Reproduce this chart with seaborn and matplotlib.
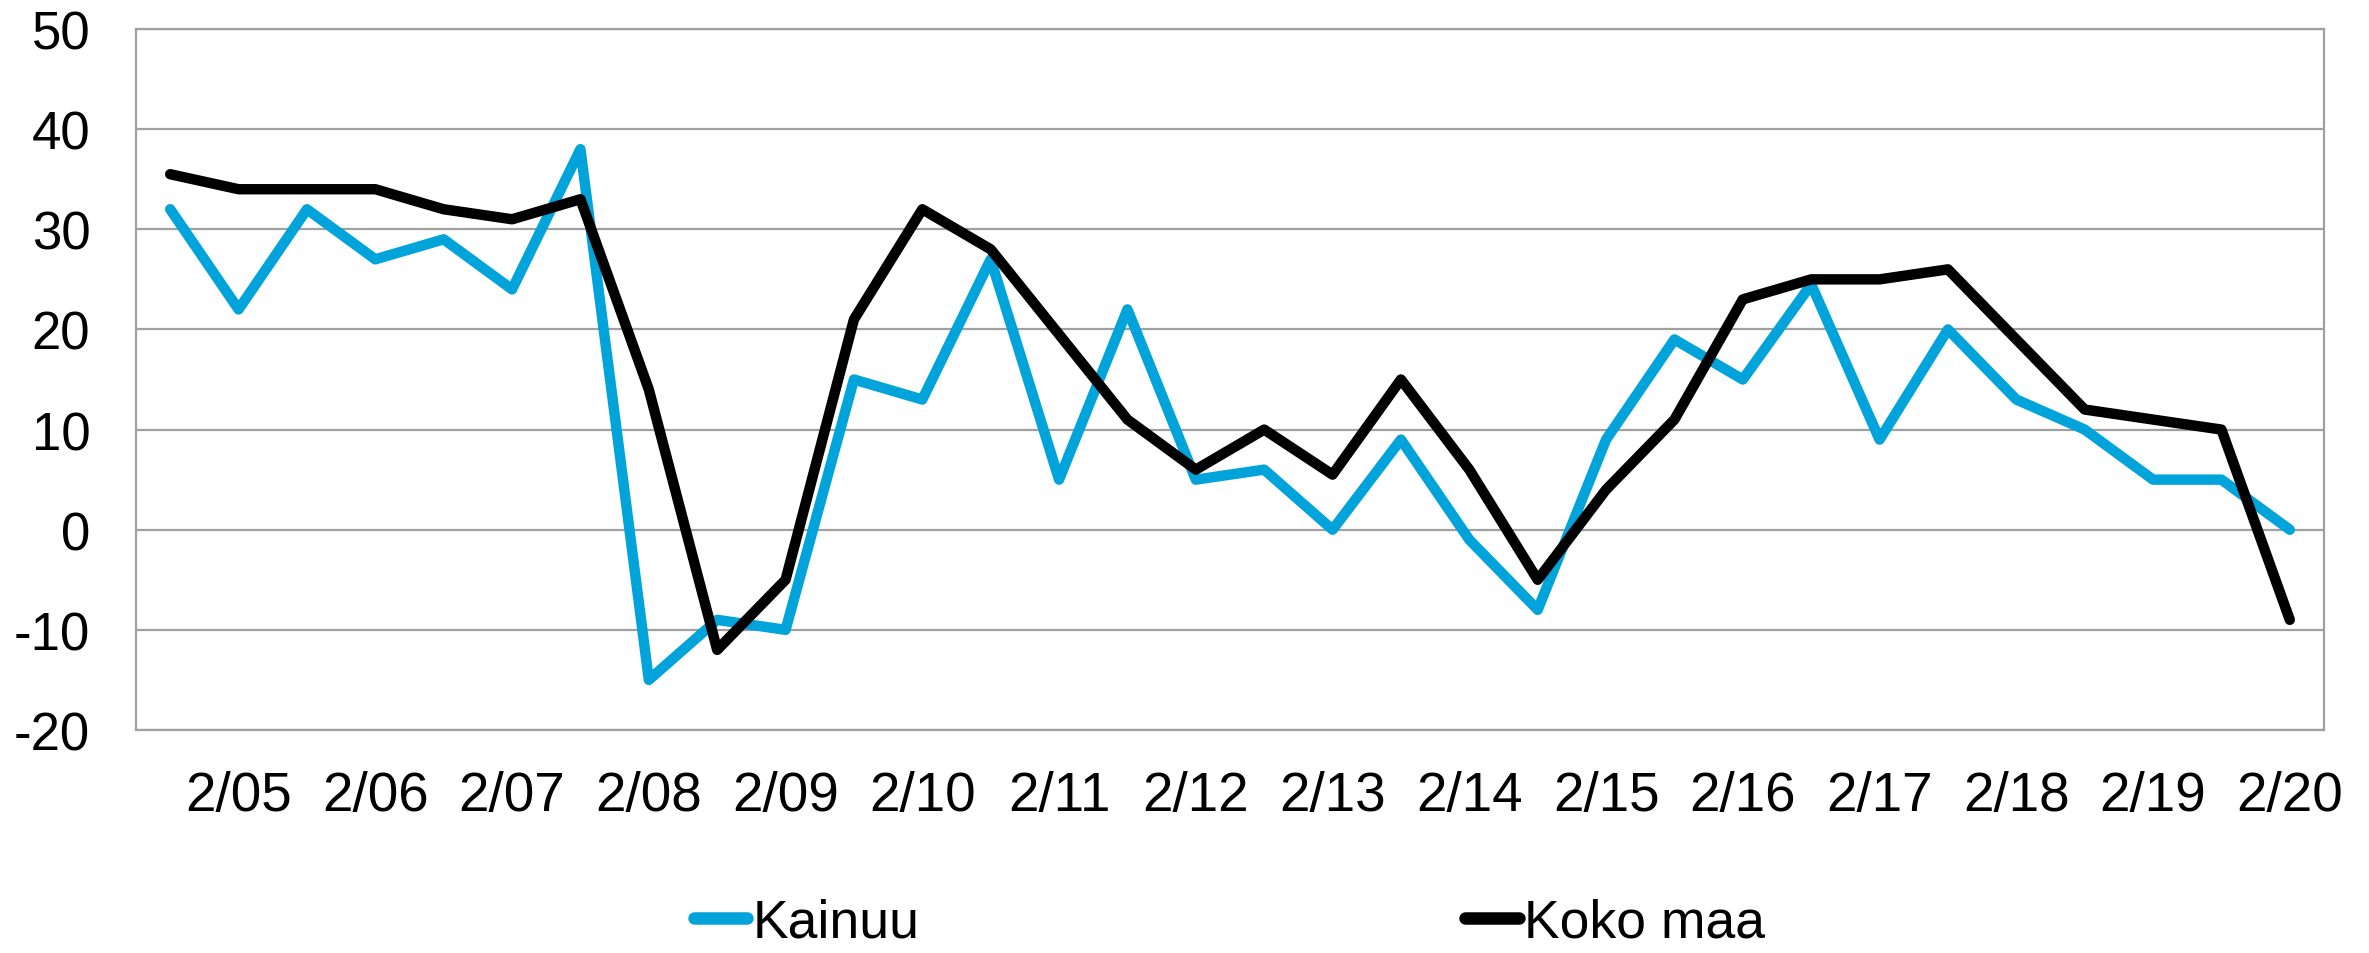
import matplotlib
matplotlib.use("Agg")
import matplotlib.pyplot as plt
import seaborn as sns
import pandas as pd
import numpy as np
from matplotlib.lines import Line2D

periods = ["1/05", "2/05", "1/06", "2/06", "1/07", "2/07", "1/08", "2/08",
           "1/09", "2/09", "1/10", "2/10", "1/11", "2/11", "1/12", "2/12",
           "1/13", "2/13", "1/14", "2/14", "1/15", "2/15", "1/16", "2/16",
           "1/17", "2/17", "1/18", "2/18", "1/19", "2/19", "1/20", "2/20"]
kainuu = [32, 22, 32, 27, 29, 24, 38, -15, -9, -10, 15, 13, 27, 5, 22, 5,
          6, 0, 9, -1, -8, 9, 19, 15, 24.5, 9, 20, 13, 10, 5, 5, 0]
koko_maa = [35.5, 34, 34, 34, 32, 31, 33, 14, -12, -5, 21, 32, 28, 19.5, 11, 6,
            10, 5.5, 15, 6, -5, 4, 11, 23, 25, 25, 26, 19, 12, 11, 10, -9]
series_names = ["Kainuu", "Koko maa"]
colors = ["#00A3DA", "#000000"]
yticks = [-20, -10, 0, 10, 20, 30, 40, 50]

sns.set_theme(style="white")
plt.rcParams['font.family'] = ['Liberation Sans', 'DejaVu Sans']

n = len(periods)
df = pd.DataFrame({
    "idx": list(range(n)) * 2,
    "value": kainuu + koko_maa,
    "series": [series_names[0]] * n + [series_names[1]] * n,
})

fig = plt.figure(figsize=(23.69, 9.54), dpi=100)
ax = fig.add_axes([136 / 2369, 1 - 731 / 954, (2324 - 136) / 2369, (731 - 30) / 954])

sns.lineplot(data=df, x="idx", y="value", hue="series", hue_order=series_names,
             palette=colors, ax=ax, legend=False)
for line in ax.lines:
    line.set_linewidth(7.5)
    line.set_solid_joinstyle("round")
    line.set_solid_capstyle("round")

ax.set_xlim(-0.5, n - 0.5)
ax.set_ylim(-20, 50)
ax.set_yticks(yticks)
ax.set_yticklabels([str(v) for v in yticks])
label_idx = list(range(1, n, 2))
ax.set_xticks(label_idx)
ax.set_xticklabels([periods[i] for i in label_idx])
ax.tick_params(axis="both", length=0, colors="black", labelcolor="black")
ax.tick_params(axis="y", labelsize=38, pad=33)
ax.tick_params(axis="x", labelsize=39.5, pad=29)
ax.set_xlabel("")
ax.set_ylabel("")
ax.grid(axis="y", color="#A0A0A0", linewidth=1.6)
ax.set_axisbelow(True)
for s in ax.spines.values():
    s.set_color("#A0A0A0")
    s.set_linewidth(1.6)

handles = [Line2D([0], [0], color=c, linewidth=9, solid_capstyle="round") for c in colors]
fig.legend(handles, series_names, loc="center", bbox_to_anchor=(0.519, 0.032),
           ncol=2, frameon=False, fontsize=38.5, handlelength=1.0,
           handletextpad=0.1, columnspacing=10.2, labelcolor="black")

fig.savefig("out.png", dpi=100)
